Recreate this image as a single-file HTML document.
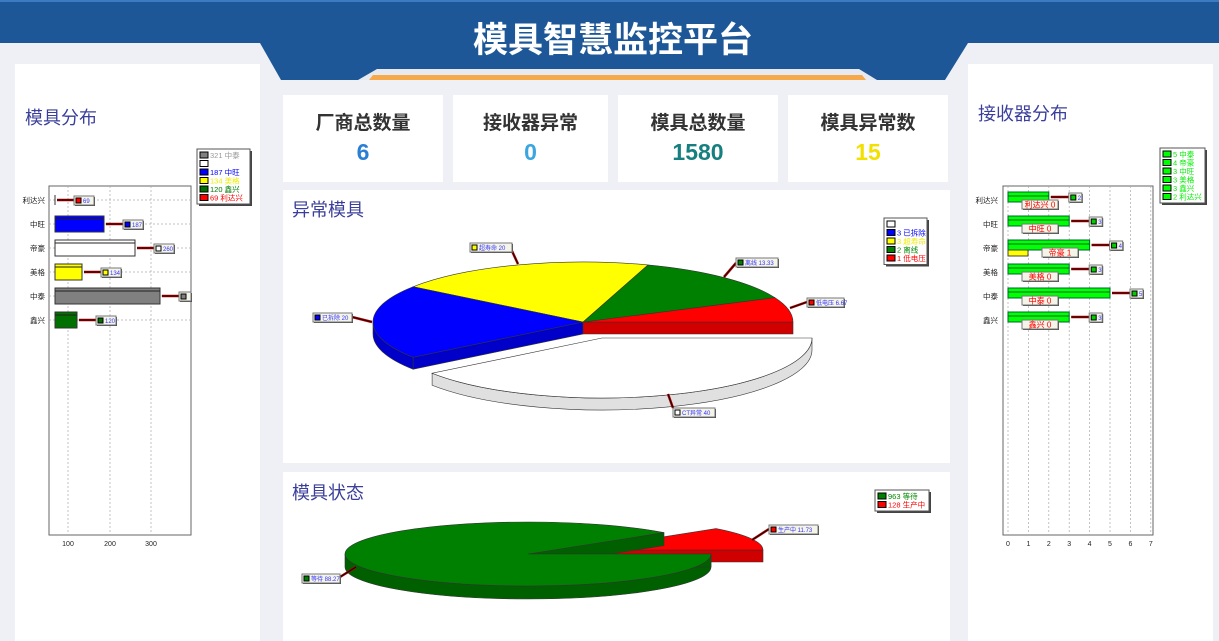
<!DOCTYPE html>
<html><head><meta charset="utf-8">
<style>
*{margin:0;padding:0;box-sizing:border-box}
body{width:1219px;height:641px;overflow:hidden;background:#eef0f5;font-family:"Liberation Sans","Noto Sans CJK SC",sans-serif;position:relative}
.p{position:absolute;background:#fff}
.t{position:absolute;color:#3b3f9b;font-size:18px;white-space:nowrap}
.card{position:absolute;background:#fff;top:95px;height:87px;text-align:center}
.card .a{font-size:19px;font-weight:bold;color:#333;margin-top:13px}
.card .b{font-size:23px;font-weight:bold;margin-top:4px}
svg{position:absolute;left:0;top:0}
</style></head><body>
<svg width="1219" height="100" style="z-index:1">
<rect x="0" y="0" width="1219" height="43" fill="#1d5797"/>
<rect x="0" y="0" width="1219" height="2" fill="#3d7bc0"/>
<polygon points="260,43 968,43 945,80 281,80" fill="#1d5797"/>
<polygon points="377,69 859,69 877,80 358,80" fill="#e6e9f0"/>
<polygon points="373,75 862,75 866,80 369,80" fill="#f6a94b"/>
<text x="613" y="52" text-anchor="middle" fill="#fff" font-size="35" font-weight="bold" font-family="Liberation Sans,Noto Sans CJK SC,sans-serif">模具智慧监控平台</text>
</svg>
<div class="p" style="left:15px;top:64px;width:245px;height:577px"></div>
<div class="p" style="left:968px;top:64px;width:245px;height:577px"></div>
<div class="p" style="left:283px;top:190px;width:667px;height:273px"></div>
<div class="p" style="left:283px;top:472px;width:667px;height:169px"></div>
<div class="card" style="left:283px;width:160px"><div class="a">厂商总数量</div><div class="b" style="color:#2a7fd4">6</div></div>
<div class="card" style="left:453px;width:155px"><div class="a">接收器异常</div><div class="b" style="color:#3aa6e0">0</div></div>
<div class="card" style="left:618px;width:160px"><div class="a">模具总数量</div><div class="b" style="color:#167f7f">1580</div></div>
<div class="card" style="left:788px;width:160px"><div class="a">模具异常数</div><div class="b" style="color:#f2e000">15</div></div>
<div class="t" style="left:25px;top:104px">模具分布</div>
<div class="t" style="left:978px;top:100px">接收器分布</div>
<div class="t" style="left:292px;top:196px">异常模具</div>
<div class="t" style="left:292px;top:479px">模具状态</div>
<svg id="s" width="1219" height="641" style="z-index:2" font-family="Liberation Sans,Noto Sans CJK SC,sans-serif"></svg>
<script>
(function(){
var h='';
function R(x,y,w,ht,f,s){h+='<rect x="'+x+'" y="'+y+'" width="'+w+'" height="'+ht+'" fill="'+f+'" stroke="'+(s||'none')+'" stroke-width="1"/>';}
function T(x,y,t,c,sz,a){h+='<text x="'+x+'" y="'+y+'" fill="'+c+'" font-size="'+(sz||7)+'" text-anchor="'+(a||'start')+'">'+t+'</text>';}
function L(x1,y1,x2,y2,c,w,d){h+='<line x1="'+x1+'" y1="'+y1+'" x2="'+x2+'" y2="'+y2+'" stroke="'+c+'" stroke-width="'+(w||1)+'"'+(d?' stroke-dasharray="'+d+'"':'')+'/>';}
function P(d,f,s){h+='<path d="'+d+'" fill="'+f+'" stroke="'+(s||'#333')+'" stroke-width="0.6"/>';}
function box(x,y,w,col,txt,tc){R(x+1,y+1,w,9,'#444');R(x,y,w,9,'#f4f4e8','#777');R(x+2,y+2,5,5,col,'#000');T(x+9,y+7,txt,tc||'#3333ff',6);}
function arrow(x1,y1,x2,y2){L(x1,y1,x2,y2,'#a00',2.5);L(x1,y1,x2,y2,'#000',0.8);}
function legend(x,y,w,items){var n=items.length;R(x+2,y+2,w,n*8.5+4,'#444');R(x,y,w,n*8.5+4,'#fff','#555');items.forEach(function(it,i){R(x+3,y+3+i*8.5,8,6,it[0],'#000');T(x+13,y+9+i*8.5,it[1],it[2],7.5);});}
R(49,186,142,349,'#fff','#666');
[68,110,151].forEach(function(x){L(x,186,x,535,'#aaa',0.7,'2,2');});
[200,224,248,272,296,320].forEach(function(y){L(49,y,191,y,'#aaa',0.7,'2,2');});
T(68,546,'100','#222',7,'middle');T(110,546,'200','#222',7,'middle');T(151,546,'300','#222',7,'middle');
var lb=[['利达兴',0,'#f00',69],['中旺',49,'#00f',187],['帝豪',80,'#fff',260],['美格',27,'#ff0',134],['中泰',105,'#808080',''],['鑫兴',22,'#007000',120]];
lb.forEach(function(b,i){var y=200+i*24;T(45,y+3,b[0],'#222',7.5,'end');
 if(b[1]>0){R(55,y-8,b[1],16,b[2],'#333');L(55,y-5,55+b[1],y-5,'#222',1);}else L(55,y-5,55,y+5,'#333',1);
 var bx=55+b[1]+19;arrow(bx,y,57+b[1],y);box(bx,y-4,b[3]===''?12:20,b[2],b[3]);});
legend(197,149,53,[['#808080','321 中泰','#999'],['#fff','',''],['#00f','187 中旺','#00f'],['#ff0','134 美格','#ee0'],['#007000','120 鑫兴','#070'],['#f00','  69 利达兴','#f00']]);
R(1003,186,150,349,'#fff','#666');
for(var k=0;k<8;k++){var x=1008+k*20.4;L(x,186,x,535,'#aaa',0.7,'2,2');T(x,546,k,'#222',7,'middle');}
var rb=[['利达兴',2],['中旺',3],['帝豪',4],['美格',3],['中泰',5],['鑫兴',3]];
rb.forEach(function(b,i){var y=200+i*24;T(998,y+3,b[0],'#222',7.5,'end');var w=b[1]*20.4;
 R(1008,y-8,w,10,'#0f0','#063');L(1008,y-4,1008+w,y-4,'#063',1);
 if(i==2)R(1008,y+2,20,6,'#ff0','#444');
 arrow(1008+w+20,y-3,1010+w,y-3);box(1008+w+20,y-7,13,'#0c0',b[1]);
 var lx=i==2?1042:1022;R(lx+1,y+1,36,9,'#444');R(lx,y,36,9,'#f4f4e8','#777');T(lx+18,y+7.5,b[0]+' '+(i==2?1:0),'#f00',8,'middle');});
legend(1160,148,45,[['#0f0','5 中泰','#0e0'],['#0f0','4 帝豪','#0e0'],['#0f0','3 中旺','#0e0'],['#0f0','3 美格','#0e0'],['#0f0','3 鑫兴','#0e0'],['#0f0','2 利达兴','#0e0']]);
function pt(cx,cy,rx,ry,a){a=a*Math.PI/180;return [cx+rx*Math.cos(a),cy-ry*Math.sin(a)];}
function tp(cx,cy,rx,ry,a1,a2,f){var p1=pt(cx,cy,rx,ry,a1),p2=pt(cx,cy,rx,ry,a2);var lg=(a2-a1)>180?1:0;P('M'+cx+','+cy+'L'+p1.join(',')+'A'+rx+','+ry+' 0 '+lg+',0 '+p2.join(',')+'Z',f);}
function side(cx,cy,rx,ry,d,a1,a2,f){var s=Math.max(a1,180),e=Math.min(a2,360);if(e<=s)return;var p1=pt(cx,cy,rx,ry,s),p2=pt(cx,cy,rx,ry,e);var lg=(e-s)>180?1:0;
 P('M'+p1.join(',')+'A'+rx+','+ry+' 0 '+lg+',0 '+p2.join(',')+'L'+p2[0]+','+(p2[1]+d)+'A'+rx+','+ry+' 0 '+lg+',1 '+p1[0]+','+(p1[1]+d)+'Z',f);}
function face(cx,cy,rx,ry,d,a,f){var p=pt(cx,cy,rx,ry,a);P('M'+cx+','+cy+'L'+p.join(',')+'L'+p[0]+','+(p[1]+d)+'L'+cx+','+(cy+d)+'Z',f);}
face(583,322,210,60,12,216,'#0000c8');
side(583,322,210,60,12,144,216,'#0000c8');
face(583,322,210,60,12,0,'#d00000');
tp(583,322,210,60,0,24,'#f00');tp(583,322,210,60,24,72,'#008000');tp(583,322,210,60,72,144,'#ff0');tp(583,322,210,60,144,216,'#00f');
side(602,338,210,60,12,216,360,'#e0e0e0');tp(602,338,210,60,216,360,'#fff');
arrow(352,317,372,322);box(313,313,39,'#00f','已拆除 20');
arrow(512,251,518,264);box(470,243,42,'#ff0','超寿命 20');
arrow(736,263,724,277);box(736,258,42,'#008000','离线 13.33');
arrow(807,302,790,308);box(807,298,37,'#f00','低电压 6.67');
arrow(673,408,668,394);box(673,408,42,'#fff','CT异常 40');
legend(884,218,43,[['#fff','',''],['#00f','3 已拆除','#00f'],['#ff0','3 超寿命','#ee0'],['#008000','2 离线','#080'],['#f00','1 低电压','#f00']]);
face(580,550,183,32,12,0,'#d00000');tp(580,550,183,32,0,42,'#f00');
face(528,554,183,32,13,42,'#006000');
side(528,554,183,32,13,180,360,'#006000');
face(528,554,183,32,13,360,'#006000');
tp(528,554,183,32,42,360,'#008000');
arrow(769,529,752,540);box(769,525,49,'#f00','生产中 11.73');
arrow(340,577,356,567);box(302,574,38,'#008000','等待 88.27');
legend(875,490,54,[['#008000','963 等待','#080'],['#f00','128 生产中','#f00']]);
document.getElementById('s').innerHTML=h;
})();
</script>
</body></html>
